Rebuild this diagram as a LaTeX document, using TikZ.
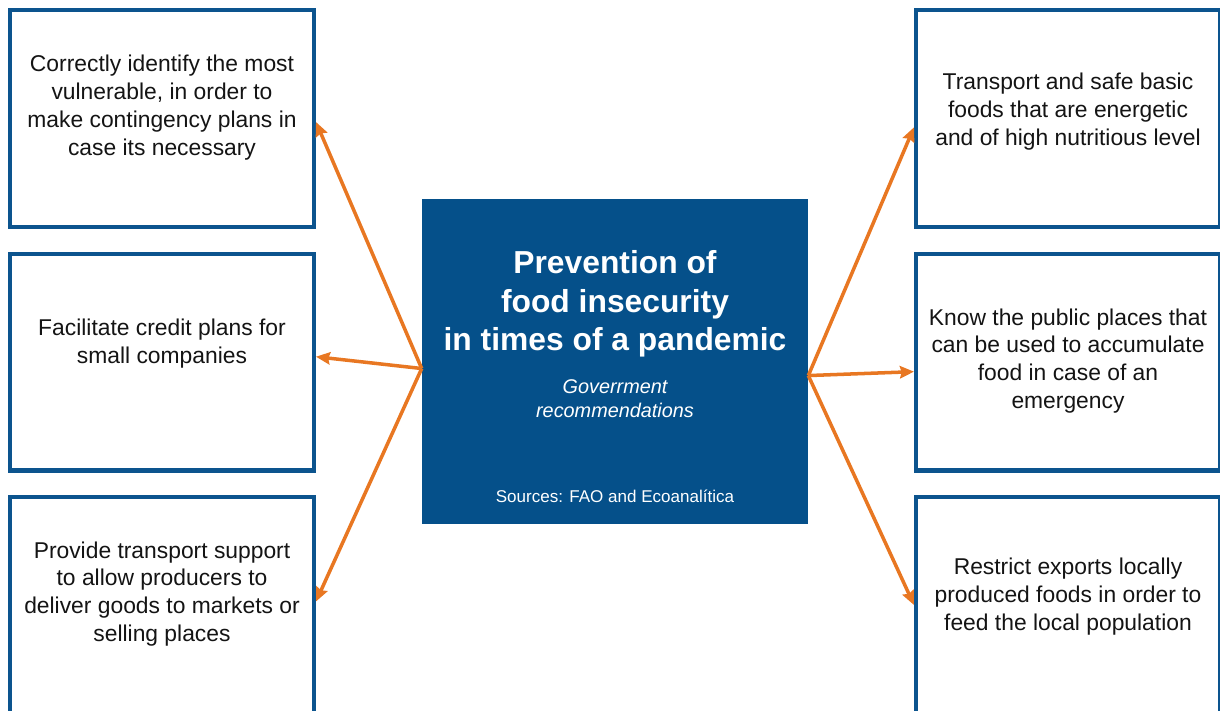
\documentclass[tikz,border=0pt]{standalone}
\usepackage{fontspec}
\setmainfont{Liberation Sans}
\usetikzlibrary{arrows.meta}

\definecolor{boxblue}{RGB}{12,84,142}
\definecolor{hubblue}{RGB}{5,80,138}
\definecolor{arroworange}{RGB}{232,119,34}

\tikzset{
  panel/.style={draw=boxblue, line width=2.3pt, fill=white, inner sep=0pt,
    minimum width=6.08cm, minimum height=4.34cm},
  note/.style={align=center, text=black!92, inner sep=0pt,
    font=\fontsize{13pt}{15.9pt}\selectfont},
  feed/.style={draw=arroworange, line width=2pt,
    -{Stealth[length=8pt,width=7pt,inset=1pt]}}
}

\begin{document}
\begin{tikzpicture}[x=0.02cm,y=-0.02cm]
  \useasboundingbox (0,0) rectangle (1220,710);
  \clip (0,0) rectangle (1220,710);

  \node [panel] (tl) at (162,118.5) {};
  \node [panel] (ml) at (162,362) {};
  \node [panel] (bl) at (162,605) {};
  \node [panel] (tr) at (1068,118.5) {};
  \node [panel] (mr) at (1068,362) {};
  \node [panel] (br) at (1068,605) {};

  \node [note] (tltext) at (162,107.5) {Correctly identify the most\\vulnerable, in order to\\make contingency plans in\\case its necessary};
  \node [note] (mltext) at (162,344) {Facilitate credit plans for\\small companies};
  \node [note] (bltext) at (162,594) {Provide transport support\\to allow producers to\\deliver goods to markets or\\selling places};
  \node [note] (trtext) at (1068,112) {Transport and safe basic\\foods that are energetic\\and of high nutritious level};
  \node [note] (mrtext) at (1068,361) {Know the public places that\\can be used to accumulate\\food in case of an\\emergency};
  \node [note] (brtext) at (1068,597) {Restrict exports locally\\produced foods in order to\\feed the local population};

  \node [fill=hubblue, inner sep=0pt, minimum width=7.72cm, minimum height=6.5cm] (hub) at (615,361.5) {};
  \node [align=center, text=white, font=\bfseries\fontsize{18.1pt}{21.8pt}\selectfont] (title) at (615,304)
    {Prevention of\\food insecurity\\in times of a pandemic};
  \node [align=center, text=white, font=\itshape\fontsize{11.3pt}{13.6pt}\selectfont] (sub) at (615,399)
    {Goverrment\\recommendations};
  \node [text=white, font=\fontsize{9.7pt}{11.6pt}\selectfont] (src) at (615,496)
    {Sources: FAO and Ecoanalítica};

  \draw [feed] ([yshift=-4pt]hub.west) -- ([yshift=-2pt]tl.east);
  \draw [feed] ([yshift=-4pt]hub.west) -- ([yshift=3pt]ml.east);
  \draw [feed] ([yshift=-4pt]hub.west) -- ([yshift=2pt]bl.east);
  \draw [feed] ([yshift=-8pt]hub.east) -- ([yshift=-5pt]tr.west);
  \draw [feed] ([yshift=-8pt]hub.east) -- ([yshift=-5.5pt]mr.west);
  \draw [feed] ([yshift=-8pt]hub.east) -- (br.west);
\end{tikzpicture}
\end{document}
